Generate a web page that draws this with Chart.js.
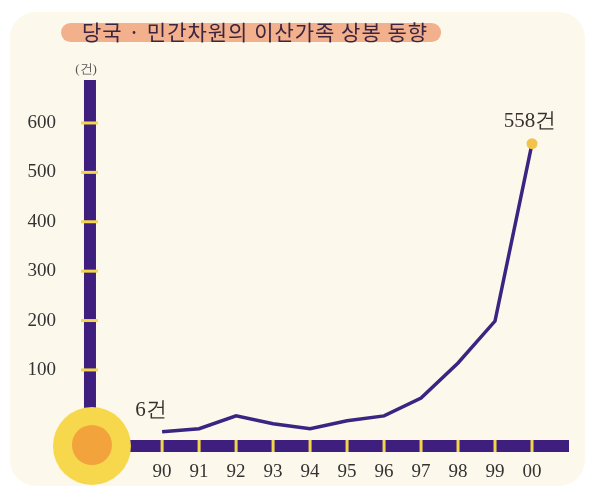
<!DOCTYPE html>
<html>
<head>
<meta charset="utf-8">
<script src="https://cdn.jsdelivr.net/npm/chart.js@4"></script>
<style>
  html, body { margin: 0; padding: 0; background: #fff; }
  #wrap { width: 591px; height: 492px; }
</style>
</head>
<body>
<div id="wrap"><canvas id="c" width="591" height="492"></canvas></div>
<script>
// 연도 (x축)
const years = ['90', '91', '92', '93', '94', '95', '96', '97', '98', '99', '00'];
// 상봉 건수 (그림에서 읽은 위치 기준)
const cases = [-25, -19, 7, -9, -19, -3, 7, 43, 114, 199, 558];
// y축 눈금
const yTicks = [100, 200, 300, 400, 500, 600];
// 값 라벨
const pointLabels = { 0: '6건', 10: '558건' };

const TITLE = '당국 · 민간차원의 이산가족 상봉 동향';
const PURPLE = '#3e1f7e';
const LINE = '#3b2482';
const YELLOW = '#f4d64c';
const CREAM = '#fcf9ec';
const SERIF = '"Liberation Serif", "DejaVu Serif", serif';
const KR = '"Noto Sans CJK KR", sans-serif';
const AXIS_X = -1.95; // 세로 막대가 놓이는 x 위치 (x축 단위)

function roundRect(c, x, y, w, h, r) {
  c.beginPath();
  c.moveTo(x + r, y);
  c.arcTo(x + w, y, x + w, y + h, r);
  c.arcTo(x + w, y + h, x, y + h, r);
  c.arcTo(x, y + h, x, y, r);
  c.arcTo(x, y, x + w, y, r);
  c.closePath();
}

const backdrop = {
  id: 'backdrop',
  beforeDraw(chart) {
    const c = chart.ctx;
    c.save();
    c.fillStyle = '#fff';
    c.fillRect(0, 0, chart.width, chart.height);
    c.fillStyle = CREAM;
    roundRect(c, 10, 12, 575, 474, 26);
    c.fill();

    // 제목 알약
    c.font = `21px ${KR}`;
    c.letterSpacing = '1px';
    c.textBaseline = 'middle';
    const tw = c.measureText(TITLE).width;
    c.fillStyle = '#f3b08c';
    roundRect(c, 61, 23, tw + 34, 19, 9.5);
    c.fill();
    c.fillStyle = '#3b2540';
    c.textAlign = 'left';
    c.fillText(TITLE, 82, 32);
    c.letterSpacing = '0px';

    // 단위
    c.font = `13px ${SERIF}`;
    c.fillStyle = '#555';
    c.textAlign = 'center';
    c.fillText('(건)', 86, 70);
    c.restore();
  },
};

const axisBars = {
  id: 'axisBars',
  beforeDatasetsDraw(chart) {
    const c = chart.ctx;
    const { chartArea, scales } = chart;
    const bx = scales.x.getPixelForValue(AXIS_X);  // 세로 막대 중심
    const by = chartArea.bottom;                   // 가로 막대 중심
    c.save();
    c.fillStyle = PURPLE;
    c.fillRect(bx - 6, chartArea.top, 12, by - chartArea.top);
    c.fillRect(bx, by - 6, chartArea.right - bx, 12);

    c.fillStyle = YELLOW;
    yTicks.forEach(v => {
      const y = scales.y.getPixelForValue(v);
      c.fillRect(bx - 9, y - 1.5, 17, 3);
    });
    years.forEach((_, i) => {
      const x = scales.x.getPixelForValue(i);
      c.fillRect(x - 1.5, by - 6, 3, 12);
    });

    // 원점 원
    c.beginPath();
    c.arc(bx + 2, by, 39, 0, Math.PI * 2);
    c.fillStyle = '#f7d84c';
    c.fill();
    c.beginPath();
    c.arc(bx + 2, by - 1, 20, 0, Math.PI * 2);
    c.fillStyle = '#f2a33c';
    c.fill();
    c.restore();
  },
};

const valueLabels = {
  id: 'valueLabels',
  afterDatasetsDraw(chart) {
    const c = chart.ctx;
    const meta = chart.getDatasetMeta(0);
    c.save();
    c.font = `21px ${SERIF}`;
    c.fillStyle = '#3a3030';
    c.textBaseline = 'middle';
    c.textAlign = 'center';
    Object.entries(pointLabels).forEach(([i, txt]) => {
      const p = meta.data[i];
      if (Number(i) === 0) c.fillText(txt, p.x - 11, p.y - 21);
      else c.fillText(txt, p.x - 2, p.y - 22);
    });
    c.restore();
  },
};

new Chart(document.getElementById('c'), {
  type: 'line',
  data: {
    datasets: [{
      data: cases.map((v, i) => ({ x: i, y: v })),
      borderColor: LINE,
      borderWidth: 3.5,
      tension: 0,
      pointRadius: cases.map((_, i) => i === cases.length - 1 ? 5.5 : 0),
      pointBackgroundColor: '#f3c24c',
      pointBorderWidth: 0,
    }],
  },
  options: {
    responsive: false,
    animation: false,
    layout: { padding: { top: 80, right: 22, bottom: 0, left: 0 } },
    plugins: { legend: { display: false }, tooltip: { enabled: false } },
    scales: {
      x: {
        type: 'linear',
        min: -2.49,
        max: 11,
        afterBuildTicks: s => { s.ticks = years.map((_, i) => ({ value: i })); },
        afterFit: s => { s.height = 46; },
        grid: { display: false },
        border: { display: false },
        ticks: {
          padding: 7,
          color: '#333',
          font: { family: SERIF, size: 19 },
          callback: v => years[v] ?? '',
          autoSkip: false,
          maxRotation: 0,
        },
      },
      y: {
        min: -54,
        max: 687,
        afterBuildTicks: s => { s.ticks = yTicks.map(v => ({ value: v })); },
        afterFit: s => { s.width = 70; },
        grid: { display: false },
        border: { display: false },
        ticks: {
          padding: 6,
          color: '#333',
          font: { family: SERIF, size: 19 },
        },
      },
    },
  },
  plugins: [backdrop, axisBars, valueLabels],
});
</script>
</body>
</html>
